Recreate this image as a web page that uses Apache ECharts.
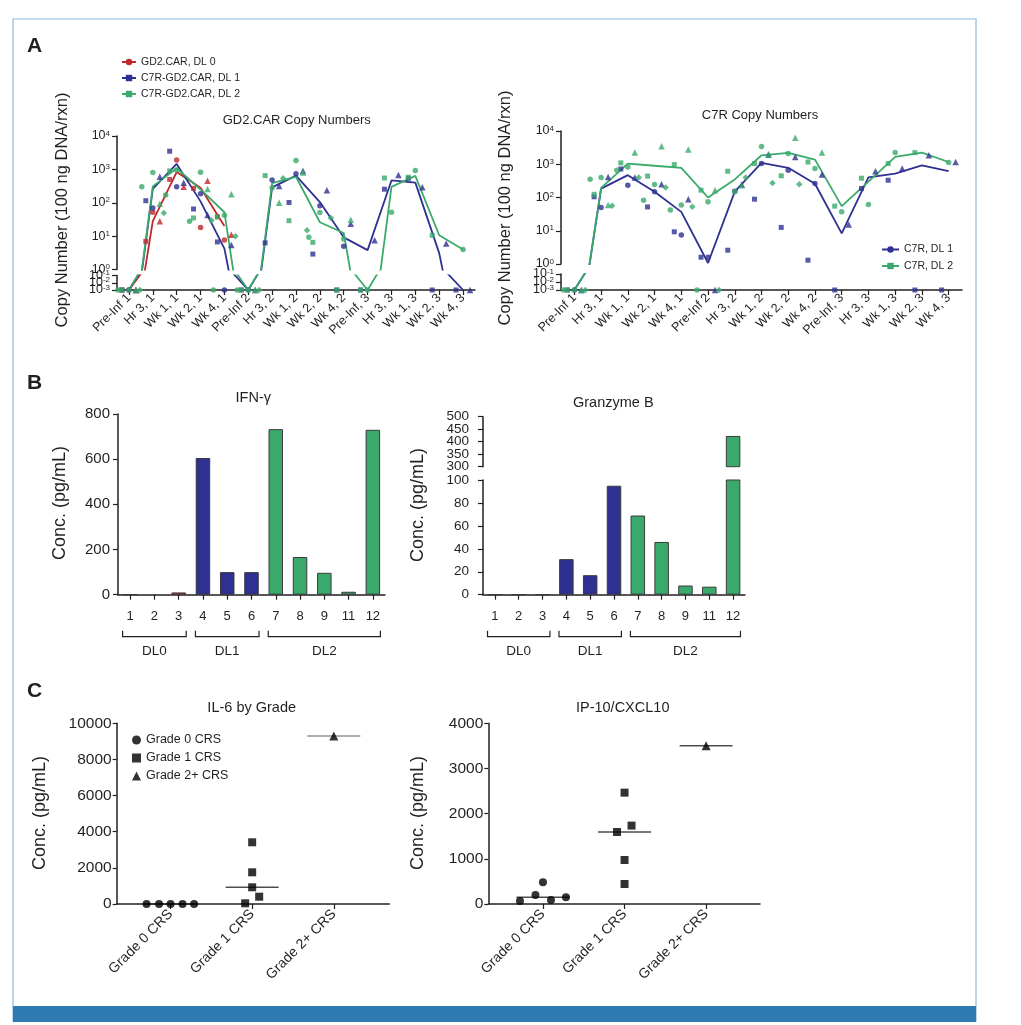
<!DOCTYPE html>
<html>
<head>
<meta charset="utf-8">
<script src="https://cdn.jsdelivr.net/npm/echarts@6.0.0/dist/echarts.min.js"></script>
<style>
html,body{margin:0;padding:0;background:#fff;}
#chart{width:1021px;height:1025px;}
</style>
</head>
<body>
<div id="chart"></div>
<script>
const N = null;
// ---------------- Panel A : copy numbers (0 = not detected) ----------------
const timepoints = ['Pre-Inf 1','Hr 3, 1','Wk 1, 1','Wk 2, 1','Wk 4, 1','Pre-Inf 2','Hr 3, 2','Wk 1, 2','Wk 2, 2','Wk 4, 2','Pre-Inf, 3','Hr 3, 3','Wk 1, 3','Wk 2, 3','Wk 4, 3'];
const logTicksUpper = [1, 10, 100, 1000, 10000];
const logTicksLower = [0.001, 0.01, 0.1];

const gd2MeanDL0 = [0, 28, 830, 280, 20, N, N, N, N, N, N, N, N, N, N];
const gd2MeanDL1 = [0, 260, 1450, 110, 4.2, 0, 290, 650, 105, 9.2, 3.8, 465, 400, 3.1, 0];
const gd2MeanDL2 = [0, 310, 1080, 250, 52, 0, 385, 600, 26, 12.4, 0, 300, 640, 10.6, 3.95];

const gd2DL0Pt1 = [0, 52, 1900, 18, 7.6, N, N, N, N, N, N, N, N, N, N];
const gd2DL0Pt2 = [0, 7, 500, 270, 38, N, N, N, N, N, N, N, N, N, N];
const gd2DL0Pt3 = [0, 28, 300, 460, 11, N, N, N, N, N, N, N, N, N, N];
const gd2DL1Pt1 = [0, 70, 300, 185, 0, 0, 480, 740, 81, 5, N, N, N, N, N];
const gd2DL1Pt2 = [0, 115, 3500, 65, 6.7, 0, 6.3, 102, 2.9, 0, 0, 255, 540, 0, 0];
const gd2DL1Pt3 = [0, 600, 400, 43, 5.4, 0, 320, 900, 235, 23.5, 7.5, 680, 290, 6, 0];
const gd2DL2Pt1 = [0, 800, 960, 820, 42, 0, 280, 1830, 51, 8.2, 0, 52, 920, N, 3.95];
const gd2DL2Pt2 = [0, N, 900, 35, 38, 0, 650, 29, 6.5, 0, 0, 550, 580, 10.6, N];
const gd2DL2Pt3 = [0, 93, N, 260, 180, 0, 100, 800, N, 31, N, N, N, N, N];
const gd2DL2Pt4 = [0, 49, N, 30, 10, 0, 540, 15, 35, N, N, N, N, N, N];
const gd2DL2Pt5 = [0, 300, 170, 28, 0, 0, N, N, 9.2, N, N, N, N, N, N];

const c7rMeanDL1 = [0, 185, 470, 148, 37, 1.07, 150, 1100, 780, 260, 8.3, 400, 520, 930, 620];
const c7rMeanDL2 = [0, 195, 1050, 900, 780, 100, 350, 1860, 2200, 1380, 55, 300, 1660, 2240, 1170];

const c7rDL1Pt1 = [0, 50, 235, 148, 7.4, 1.6, 155, 1050, 660, 263, N, N, N, N, N];
const c7rDL1Pt2 = [0, 105, 720, 52, 9.3, 1.6, 2.6, 89, 12.6, 1.3, 0, 186, 330, 0, 0];
const c7rDL1Pt3 = [0, 415, 400, 250, 89, 0, 246, 1950, 1660, 490, 15.5, 617, 740, 1860, 1170];
const c7rDL2Pt1 = [0, 400, 830, 245, 60, 74, 148, 3400, 2100, 740, 37, 62, 2240, N, 1120];
const c7rDL2Pt2 = [0, 125, 1100, 440, 980, 166, 617, 1050, 450, 1170, 55, 380, 1050, 2240, N];
const c7rDL2Pt3 = [0, 59, 2240, 3470, 2800, 166, 235, 1950, 6300, 2240, N, N, N, N, N];
const c7rDL2Pt4 = [0, 56, 400, 200, 53, 0, 400, 275, 250, N, N, N, N, N, N];
const c7rDL2Pt5 = [0, 355, 660, 83, 42, 0, N, N, N, N, N, N, N, N, N];

// ---------------- Panel B : cytokines by patient ----------------
const patients = ['1','2','3','4','5','6','7','8','9','11','12'];
const patientDL = ['DL0','DL0','DL0','DL1','DL1','DL1','DL2','DL2','DL2','DL2','DL2'];
const ifng = [0.5, -2, 10, 605, 100, 100, 733, 167, 97, 13, 730];
const granzymeB = [0, 0, 0, 31, 17, 95, 69, 46, 8, 7, 423];
const gzbTicksLower = [0, 20, 40, 60, 80, 100];
const gzbTicksUpper = [300, 350, 400, 450, 500];

// ---------------- Panel C : by CRS grade ----------------
const grades = ['Grade 0 CRS','Grade 1 CRS','Grade 2+ CRS'];
const il6Grade0 = [0, 0, 0, 0, 0];
const il6Grade1 = [3414, 1754, 924, 404, 39];
const il6Grade2 = [9300];
const ip10Grade0 = [66, 199, 480, 88, 148];
const ip10Grade1 = [2465, 1735, 1594, 974, 443];
const ip10Grade2 = [3505];

// ---------------- styling / layout ----------------
const FONT = "'Liberation Sans', Arial, Helvetica, sans-serif";
const INK = '#231f20';
const RED = '#c1272d', BLUE = '#2e3192', GREEN = '#3aaa6c';
const FLOOR = 0.001; // "not detected" drawn on the bottom of the broken log axis
const il6Jitter = [[-24,-11.5,0,12,23.5],[0,0,0,7,-7],[0]];
const ip10Jitter = [[-23,-7.5,0,8,23],[0,7,-7.5,0,0],[0]];

const grid = [
  {left:117, top:136, width:358, height:133.5},
  {left:117, top:275.5, width:358, height:14.5},
  {left:561, top:131, width:401, height:133},
  {left:561, top:274, width:401, height:16},
  {left:118, top:414, width:267, height:180.7},
  {left:483, top:480, width:262, height:114.7},
  {left:483, top:416.7, width:262, height:50},
  {left:116.7, top:723.3, width:272.6, height:180.7},
  {left:488.3, top:723.3, width:271.7, height:180.7}
];

const axisLineS = {show:true, onZero:false, lineStyle:{color:INK, width:1.5}};
const tickS = {show:true, length:5, lineStyle:{color:INK, width:1.2}};
const catLabelA = {interval:0, rotate:45, fontSize:12.5, fontFamily:FONT, color:INK, margin:6};
const pow10 = v => '{b|10}{s|' + Math.round(Math.log10(v)) + '}';
const powRich = { b:{fontSize:12.5, fontFamily:FONT, fill:INK, color:INK}, s:{fontSize:8, fontFamily:FONT, fill:INK, color:INK, verticalAlign:'top'} };
const logLabel = {margin:7, showMinLabel:true, showMaxLabel:true, formatter:pow10, rich:powRich};
const gradeLabel = {customValues:[0,1,2], formatter: v => grades[Math.round(v)], rotate:45, fontSize:14, fontFamily:FONT, color:INK, margin:8};

const xAxis = [
  {gridIndex:0, type:'category', data:timepoints, show:false},
  {gridIndex:1, type:'category', data:timepoints, axisLine:axisLineS, axisTick:{...tickS, alignWithLabel:true}, axisLabel:catLabelA},
  {gridIndex:2, type:'category', data:timepoints, show:false},
  {gridIndex:3, type:'category', data:timepoints, axisLine:axisLineS, axisTick:{...tickS, alignWithLabel:true}, axisLabel:catLabelA},
  {gridIndex:4, type:'category', data:patients, axisLine:axisLineS, axisTick:{...tickS, alignWithLabel:true}, axisLabel:{interval:0, fontSize:13, fontFamily:FONT, color:INK, margin:15}},
  {gridIndex:5, type:'category', data:patients, axisLine:axisLineS, axisTick:{...tickS, alignWithLabel:true}, axisLabel:{interval:0, fontSize:13, fontFamily:FONT, color:INK, margin:15}},
  {gridIndex:6, type:'category', data:patients, show:false},
  {gridIndex:7, type:'value', min:-0.66, max:2.68, axisLine:axisLineS, axisTick:{...tickS, customValues:[0,1,2]}, axisLabel:gradeLabel, splitLine:{show:false}},
  {gridIndex:8, type:'value', min:-0.67, max:2.66, axisLine:axisLineS, axisTick:{...tickS, customValues:[0,1,2]}, axisLabel:gradeLabel, splitLine:{show:false}}
];

const numLabel = (size, margin) => ({fontSize:size, fontFamily:FONT, color:INK, margin, showMinLabel:true, showMaxLabel:true, formatter: v => String(v)});
const yAxis = [
  {gridIndex:0, type:'log', logBase:10, min:1, max:10000, axisLine:axisLineS, axisTick:{...tickS, customValues:logTicksUpper}, splitLine:{show:false}, axisLabel:logLabel},
  {gridIndex:1, type:'log', logBase:10, min:0.001, max:0.1, axisLine:axisLineS, axisTick:{...tickS, customValues:logTicksLower}, splitLine:{show:false}, axisLabel:{show:false}},
  {gridIndex:2, type:'log', logBase:10, min:1, max:10000, axisLine:axisLineS, axisTick:{...tickS, customValues:logTicksUpper}, splitLine:{show:false}, axisLabel:logLabel},
  {gridIndex:3, type:'log', logBase:10, min:0.001, max:0.1, axisLine:axisLineS, axisTick:{...tickS, customValues:logTicksLower}, splitLine:{show:false}, axisLabel:{show:false}},
  {gridIndex:4, type:'value', min:0, max:800, interval:200, axisLine:axisLineS, axisTick:tickS, splitLine:{show:false}, axisLabel:numLabel(15,8)},
  {gridIndex:5, type:'value', min:0, max:100, interval:20, axisLine:axisLineS, axisTick:{...tickS, customValues:gzbTicksLower}, splitLine:{show:false}, axisLabel:numLabel(13.5,14)},
  {gridIndex:6, type:'value', min:300, max:500, interval:50, axisLine:axisLineS, axisTick:{...tickS, customValues:gzbTicksUpper}, splitLine:{show:false}, axisLabel:{show:false}},
  {gridIndex:7, type:'value', min:0, max:10000, interval:2000, axisLine:axisLineS, axisTick:{...tickS, length:4}, splitLine:{show:false}, axisLabel:numLabel(15.5,5)},
  {gridIndex:8, type:'value', min:0, max:4000, interval:1000, axisLine:axisLineS, axisTick:{...tickS, length:4}, splitLine:{show:false}, axisLabel:numLabel(15.5,5)}
];

// ---------------- series builders ----------------
const plotVal = v => v == null ? null : Math.max(v, FLOOR);
function lineSeries(name, values, color, symbol, gTop){
  return [gTop, gTop + 1].map(g => ({
    type:'line', name, xAxisIndex:g, yAxisIndex:g, data:values.map(plotVal),
    symbol, symbolSize:6, showSymbol:false, clip:true, silent:true, z:3,
    lineStyle:{color, width:1.8}, itemStyle:{color}
  }));
}
function pointSeries(values, color, symbol, size, dx, gTop){
  const upper = values.map(v => (v != null && v >= 1) ? v : null);
  const lower = values.map(v => (v != null && v < 1) ? FLOOR : null);
  return [[gTop, upper], [gTop + 1, lower]].map(([g, d]) => ({
    type:'scatter', xAxisIndex:g, yAxisIndex:g, data:d, symbol, symbolSize:size,
    symbolOffset:[dx, 0], itemStyle:{color}, clip:false, silent:true, z:4
  }));
}
const SH = [['circle',5.5,0],['rect',5,-7],['triangle',6.5,7],['diamond',6.5,11],['circle',5.5,-11]];
function patientSet(list, color, gTop){
  return list.flatMap((arr, i) => pointSeries(arr, color, SH[i][0], SH[i][1], SH[i][2], gTop));
}

const dlColor = {DL0:RED, DL1:BLUE, DL2:GREEN};
function barItems(values, keep){
  return values.map((v, i) => keep(v) ? {value:v, itemStyle:{color:dlColor[patientDL[i]]}} : null);
}
const barBase = {type:'bar', barWidth:14.5, clip:true, silent:true, itemStyle:{borderColor:'#3a3a3a', borderWidth:1}};

function gradeSeries(name, values, jitter, gi, ax, symbol, size){
  return {type:'scatter', name, xAxisIndex:ax, yAxisIndex:ax, symbol, symbolSize:size, clip:false, silent:true, z:4,
    itemStyle:{color:'#000'},
    data: values.map((v, i) => ({value:[gi, v], symbolOffset:[jitter[i], 0]}))};
}
function median(arr){ const s = [...arr].sort((a,b)=>a-b); const m = s.length >> 1; return s.length % 2 ? s[m] : (s[m-1] + s[m]) / 2; }
function medianSeries(groups, ax, colors){
  return {type:'scatter', xAxisIndex:ax, yAxisIndex:ax, symbol:'rect', symbolSize:[53,1.5], silent:true, z:3, clip:false,
    data: groups.map((g, gi) => ({value:[gi, median(g)], itemStyle:{color:colors[gi]}}))};
}

const series = [
  ...lineSeries('GD2.CAR, DL 0', gd2MeanDL0, RED, 'circle', 0),
  ...lineSeries('C7R-GD2.CAR, DL 1', gd2MeanDL1, BLUE, 'rect', 0),
  ...lineSeries('C7R-GD2.CAR, DL 2', gd2MeanDL2, GREEN, 'rect', 0),
  ...patientSet([gd2DL0Pt1, gd2DL0Pt2, gd2DL0Pt3], RED, 0),
  ...patientSet([gd2DL1Pt1, gd2DL1Pt2, gd2DL1Pt3], BLUE, 0),
  ...patientSet([gd2DL2Pt1, gd2DL2Pt2, gd2DL2Pt3, gd2DL2Pt4, gd2DL2Pt5], GREEN, 0),

  ...lineSeries('C7R, DL 1', c7rMeanDL1, BLUE, 'circle', 2),
  ...lineSeries('C7R, DL 2', c7rMeanDL2, GREEN, 'rect', 2),
  ...patientSet([c7rDL1Pt1, c7rDL1Pt2, c7rDL1Pt3], BLUE, 2),
  ...patientSet([c7rDL2Pt1, c7rDL2Pt2, c7rDL2Pt3, c7rDL2Pt4, c7rDL2Pt5], GREEN, 2),

  {...barBase, xAxisIndex:4, yAxisIndex:4, data:barItems(ifng, () => true)},
  {...barBase, xAxisIndex:5, yAxisIndex:5, data:barItems(granzymeB, () => true)},
  {...barBase, xAxisIndex:6, yAxisIndex:6, data:barItems(granzymeB, v => v >= 300)},

  gradeSeries('Grade 0 CRS', il6Grade0, il6Jitter[0], 0, 7, 'circle', 8),
  gradeSeries('Grade 1 CRS', il6Grade1, il6Jitter[1], 1, 7, 'rect', 8),
  gradeSeries('Grade 2+ CRS', il6Grade2, il6Jitter[2], 2, 7, 'triangle', 9),
  medianSeries([il6Grade0, il6Grade1, il6Grade2], 7, [INK, INK, '#777']),
  gradeSeries('Grade 0 CRS', ip10Grade0, ip10Jitter[0], 0, 8, 'circle', 8),
  gradeSeries('Grade 1 CRS', ip10Grade1, ip10Jitter[1], 1, 8, 'rect', 8),
  gradeSeries('Grade 2+ CRS', ip10Grade2, ip10Jitter[2], 2, 8, 'triangle', 9),
  medianSeries([ip10Grade0, ip10Grade1, ip10Grade2], 8, [INK, INK, INK])
];

const legendText = size => ({fontSize:size, fontFamily:FONT, color:INK});
const legend = [
  {data:['GD2.CAR, DL 0','C7R-GD2.CAR, DL 1','C7R-GD2.CAR, DL 2'], orient:'vertical', left:116, top:51.5, itemWidth:14, itemHeight:8, itemGap:5, selectedMode:false, textStyle:legendText(10.5)},
  {data:['C7R, DL 1','C7R, DL 2'], orient:'vertical', left:876, top:239, itemWidth:17, itemHeight:8, itemGap:5.5, selectedMode:false, textStyle:legendText(10.5)},
  {data:['Grade 0 CRS','Grade 1 CRS','Grade 2+ CRS'], orient:'vertical', left:127, top:728.5, itemWidth:9, itemHeight:9, itemGap:5, selectedMode:false, textStyle:legendText(12.5)}
];

const chart = echarts.init(document.getElementById('chart'), null, {renderer:'canvas'});
chart.setOption({animation:false, backgroundColor:'#fff', grid, xAxis, yAxis, series, legend});

// ---------------- annotations ----------------
function txt(text, x, y, size, opts = {}){
  return {type:'text', x, y, rotation:opts.rot || 0, silent:true, z:10,
    style:{text, fontSize:size, fontFamily:FONT, fontWeight:opts.bold ? 'bold' : 'normal', fill:INK, align:opts.align || 'center', verticalAlign:'middle'}};
}
const gfx = [
  {type:'rect', shape:{x:13, y:19, width:963, height:1002}, style:{fill:null, stroke:'#8dbbe0', lineWidth:1.2}, silent:true, z:1},
  {type:'rect', shape:{x:13, y:1006, width:963, height:16}, style:{fill:'#2e7ab3'}, silent:true, z:1},
  txt('A', 34.5, 46, 21, {bold:true}),
  txt('B', 34.5, 383, 21, {bold:true}),
  txt('C', 34.5, 691.5, 21, {bold:true}),
  txt('GD2.CAR Copy Numbers', 296.7, 120.7, 13),
  txt('C7R Copy Numbers', 760, 115.7, 13),
  txt('IFN-\u03b3', 253.3, 398, 14.5),
  txt('Granzyme B', 613.3, 402.7, 14.5),
  txt('IL-6 by Grade', 251.7, 708.3, 14.5),
  txt('IP-10/CXCL10', 622.7, 708.3, 14.5),
  txt('Copy Number (100 ng DNA/rxn)', 62.5, 210, 16.5, {rot:Math.PI/2}),
  txt('Copy Number (100 ng DNA/rxn)', 505, 208, 16.5, {rot:Math.PI/2}),
  txt('Conc. (pg/mL)', 60, 503, 18, {rot:Math.PI/2}),
  txt('Conc. (pg/mL)', 418.3, 505, 18, {rot:Math.PI/2}),
  txt('Conc. (pg/mL)', 40, 813, 18, {rot:Math.PI/2}),
  txt('Conc. (pg/mL)', 418, 813, 18, {rot:Math.PI/2})
];
// crowded axis labels (placed through the axis scale so they are never thinned out)
function axisTexts(axIdx, values, fmt, size, margin, rich){
  const x = grid[axIdx].left - margin;
  values.forEach(v => {
    const y = chart.convertToPixel({yAxisIndex:axIdx}, v);
    const st = {text:fmt(v), fontSize:size, fontFamily:FONT, fill:INK, align:'right', verticalAlign:'middle'};
    if (rich) st.rich = rich;
    gfx.push({type:'text', x, y, silent:true, z:10, style:st});
  });
}
axisTexts(1, logTicksLower, pow10, 12.5, 7, powRich);
axisTexts(3, logTicksLower, pow10, 12.5, 7, powRich);
axisTexts(6, gzbTicksUpper, v => String(v), 13.5, 14, null);

function addBrackets(axIdx){
  const y0 = chart.convertToPixel({yAxisIndex:axIdx}, 0);
  const cx = i => chart.convertToPixel({xAxisIndex:axIdx}, i);
  const band = cx(1) - cx(0);
  ['DL0','DL1','DL2'].forEach(g => {
    const idx = patientDL.map((d, i) => d === g ? i : -1).filter(i => i >= 0);
    const x1 = cx(idx[0]) - band * 0.31, x2 = cx(idx[idx.length - 1]) + band * 0.31;
    const y = y0 + 42;
    gfx.push({type:'polyline', silent:true, shape:{points:[[x1, y - 6], [x1, y], [x2, y], [x2, y - 6]]}, style:{stroke:INK, lineWidth:1.2, fill:null}});
    gfx.push(txt(g, (x1 + x2) / 2, y + 15, 13.5));
  });
}
addBrackets(4);
addBrackets(5);
chart.setOption({graphic:{elements:gfx}});
</script>
</body>
</html>
